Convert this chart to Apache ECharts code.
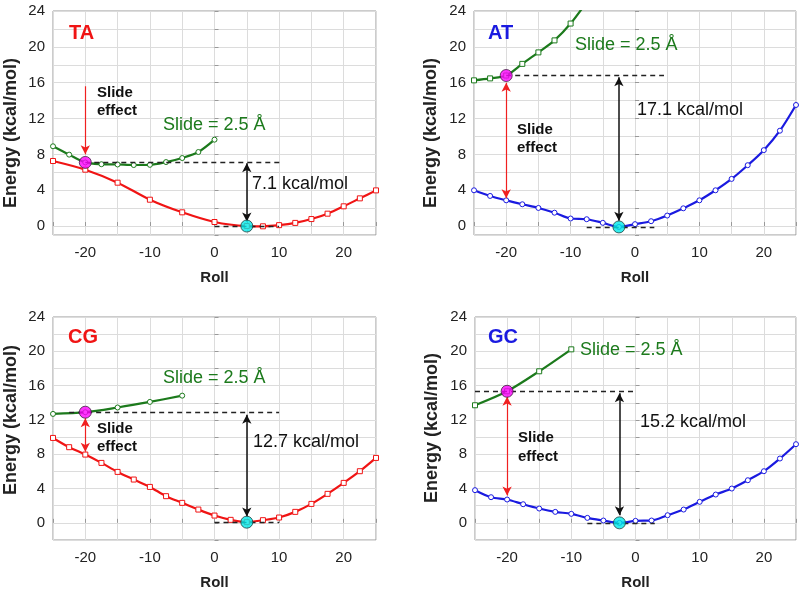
<!DOCTYPE html>
<html><head><meta charset="utf-8">
<script src="https://cdn.jsdelivr.net/npm/echarts@6/dist/echarts.min.js"></script>
<style>html,body{margin:0;padding:0;background:#fff}#c{width:800px;height:593px}</style>
</head><body><div id="c"></div>
<script>
// ---------- data ----------
const rollFull = [-25,-22.5,-20,-17.5,-15,-12.5,-10,-7.5,-5,-2.5,0,2.5,5,7.5,10,12.5,15,17.5,20,22.5,25];
const taBaseRoll = [-25,-20,-15,-10,-5,0,5,7.5,10,12.5,15,17.5,20,22.5,25];
const taBaseE = [7.26,6.29,4.84,2.94,1.53,0.45,0.0,-0.03,0.1,0.35,0.78,1.38,2.2,3.09,3.98];
const taSlideRoll = [-25,-22.5,-20,-17.5,-15,-12.5,-10,-7.5,-5,-2.5,0];
const taSlideE = [8.9,7.97,7.1,6.9,6.87,6.81,6.83,7.14,7.59,8.26,9.64];
const atBaseE = [3.99,3.36,2.87,2.43,2.02,1.49,0.84,0.76,0.36,-0.1,0.21,0.54,1.17,1.98,2.87,3.99,5.26,6.79,8.47,10.64,13.51];
const atSlideRoll = [-25,-22.5,-20,-17.5,-15,-12.5,-10,-7.5];
const atSlideE = [16.26,16.48,16.8,18.1,19.38,20.72,22.6,25.0];
const cgBaseE = [9.9,8.82,7.96,6.99,5.94,5.05,4.19,3.11,2.33,1.55,0.85,0.35,0.08,0.31,0.62,1.28,2.21,3.38,4.66,6.02,7.57];
const cgSlideRoll = [-25,-20,-15,-10,-5];
const cgSlideE = [12.7,12.9,13.45,14.1,14.83];
const gcBaseE = [3.81,2.99,2.72,2.17,1.67,1.28,1.05,0.58,0.27,0.0,0.23,0.27,0.89,1.55,2.45,3.3,4.0,4.97,6.02,7.5,9.17];
const gcSlideRoll = [-25,-20,-15,-10];
const gcSlideE = [13.71,15.34,17.67,20.23];

const panelNames = ['TA','AT','CG','GC'];
const gapLabels = ['7.1 kcal/mol','17.1 kcal/mol','12.7 kcal/mol','15.2 kcal/mol'];
const minRoll = [5,-2.5,5,-2.5];
const minE = [0,-0.1,0.08,0];
const slidePtRoll = [-20,-20,-20,-20];
const slidePtE = [7.1,16.8,12.9,15.34];
const upperDashRoll = [[-20,10.5],[-20,4.5],[-22.5,10],[-25,0]];
const lowerDashRoll = [[0,10],[-7.5,3],[0,10],[-7.5,3]];
const gapArrowE = [[7.0,0.5],[16.6,0.6],[12.6,0.75],[15.1,0.9]];
const slideArrowE = [[15.6,8.0],[16.0,3.1],[12.2,8.3],[14.7,3.2]];
const slideArrowBoth = [false,true,true,true];
const xTickLabels = [-20,-10,0,10,20];
const yTickLabels = [0,4,8,12,16,20,24];
const yMins = [-1,-1,-2,-2];

// ---------- styles ----------
const RED = '#f01414', BLUE = '#1a1ae0', GREEN = '#1c7a1c';
const FONT = '"Liberation Sans", Arial, sans-serif';
const baseColors = [RED, BLUE, RED, BLUE];
const baseSymbols = ['rect','circle','rect','circle'];
const slideSymbols = ['circle','rect','circle','rect'];
const grids = [
  {left:53, top:11, width:323, height:224},
  {left:474, top:11, width:322, height:224},
  {left:53, top:317, width:323, height:223},
  {left:475, top:317, width:321, height:223}
];

const pairs = (xs, ys) => xs.map((x, i) => [x, ys[i]]);
const baseData = [pairs(taBaseRoll, taBaseE), pairs(rollFull, atBaseE), pairs(rollFull, cgBaseE), pairs(rollFull, gcBaseE)];
const slideData = [pairs(taSlideRoll, taSlideE), pairs(atSlideRoll, atSlideE), pairs(cgSlideRoll, cgSlideE), pairs(gcSlideRoll, gcSlideE)];

const xAxes = grids.map((g, i) => ({
  gridIndex: i, type: 'value', min: -25, max: 25, interval: 5,
  name: 'Roll', nameLocation: 'middle', nameGap: 35,
  nameTextStyle: {fontFamily: FONT, fontWeight: 'bold', fontSize: 15, color: '#222'},
  axisLine: {show: false},
  axisTick: {show: true, inside: true, length: 4, lineStyle: {color: '#999'}},
  axisLabel: {fontFamily: FONT, fontSize: 15, color: '#222', margin: 10,
    formatter: v => xTickLabels.includes(v) ? String(v) : ''},
  splitLine: {show: true, lineStyle: {color: '#dcdcdc', width: 1}}
}));
const yAxes = grids.map((g, i) => ({
  gridIndex: i, type: 'value', min: yMins[i], max: 24, minInterval: 2, maxInterval: 2,
  axisLine: {show: false},
  axisTick: {show: true, inside: true, length: 4, lineStyle: {color: '#999'}},
  axisLabel: {fontFamily: FONT, fontSize: 15, color: '#222', margin: 8,
    formatter: v => yTickLabels.includes(v) ? String(v) : ''},
  splitLine: {show: true, lineStyle: {color: '#dcdcdc', width: 1}}
}));

const series = [];
for (let i = 0; i < 4; i++) {
  series.push({
    type: 'line', xAxisIndex: i, yAxisIndex: i, data: baseData[i], smooth: 0.3,
    symbol: baseSymbols[i], symbolSize: 5, clip: true, z: 3,
    lineStyle: {color: baseColors[i], width: 2.2},
    itemStyle: {color: '#fff', borderColor: baseColors[i], borderWidth: 1},
    silent: true
  });
  series.push({
    type: 'line', xAxisIndex: i, yAxisIndex: i, data: slideData[i], smooth: 0.3,
    symbol: slideSymbols[i], symbolSize: 5, clip: true, z: 3,
    lineStyle: {color: GREEN, width: 2.2},
    itemStyle: {color: '#fff', borderColor: GREEN, borderWidth: 1},
    silent: true
  });
  const dash = {type: [5, 4], color: '#222', width: 1.4};
  series.push({
    type: 'scatter', xAxisIndex: i, yAxisIndex: i, z: 10, silent: true,
    data: [
      {value: [slidePtRoll[i], slidePtE[i]], itemStyle: {color: '#ff00ff', borderColor: '#402040', borderWidth: 1}},
      {value: [minRoll[i], minE[i]], itemStyle: {color: '#00e8e8', borderColor: '#204040', borderWidth: 1}}
    ],
    symbol: 'circle', symbolSize: 12,
    markLine: {
      silent: true, animation: false, symbol: 'none', label: {show: false},
      emphasis: {disabled: true},
      data: [
        [{coord: [upperDashRoll[i][0], slidePtE[i]], lineStyle: dash}, {coord: [upperDashRoll[i][1], slidePtE[i]]}],
        [{coord: [lowerDashRoll[i][0], minE[i]], lineStyle: dash}, {coord: [lowerDashRoll[i][1], minE[i]]}],
        [{coord: [minRoll[i], gapArrowE[i][0]], symbol: 'arrow', symbolSize: [7, 9], lineStyle: {type: 'solid', color: '#111', width: 1.5}},
         {coord: [minRoll[i], gapArrowE[i][1]], symbol: 'arrow', symbolSize: [7, 9]}],
        [{coord: [slidePtRoll[i], slideArrowE[i][0]], symbol: slideArrowBoth[i] ? 'arrow' : 'none', symbolSize: [7, 9], lineStyle: {type: 'solid', color: '#f02020', width: 1.2}},
         {coord: [slidePtRoll[i], slideArrowE[i][1]], symbol: 'arrow', symbolSize: [7, 9]}]
      ]
    }
  });
}

// ---------- text layout ----------
function txt(x, y, text, font, fill, rot) {
  return {type: 'text', x: x, y: y, rotation: rot || 0, silent: true, z: 20,
    style: {text: text, font: font, fill: fill, align: rot ? 'center' : 'left', verticalAlign: 'middle'}};
}
const big = 'bold 20px ' + FONT, bold15 = 'bold 15px ' + FONT, reg18 = '18px ' + FONT, axisF = 'bold 18px ' + FONT;
const graphic = [
  txt(69, 33, panelNames[0], big, RED),
  txt(97, 93, 'Slide', bold15, '#111'), txt(97, 111, 'effect', bold15, '#111'),
  txt(163, 125, 'Slide = 2.5 Å', reg18, GREEN),
  txt(252, 184, gapLabels[0], reg18, '#111'),
  txt(488, 33, panelNames[1], big, BLUE),
  txt(517, 130, 'Slide', bold15, '#111'), txt(517, 148, 'effect', bold15, '#111'),
  txt(575, 45, 'Slide = 2.5 Å', reg18, GREEN),
  txt(637, 110, gapLabels[1], reg18, '#111'),
  txt(68, 337, panelNames[2], big, RED),
  txt(97, 429, 'Slide', bold15, '#111'), txt(97, 447, 'effect', bold15, '#111'),
  txt(163, 378, 'Slide = 2.5 Å', reg18, GREEN),
  txt(253, 442, gapLabels[2], reg18, '#111'),
  txt(488, 337, panelNames[3], big, BLUE),
  txt(518, 438, 'Slide', bold15, '#111'), txt(518, 457, 'effect', bold15, '#111'),
  txt(580, 350, 'Slide = 2.5 Å', reg18, GREEN),
  txt(640, 422, gapLabels[3], reg18, '#111'),
  txt(11, 133, 'Energy (kcal/mol)', axisF, '#222', Math.PI / 2),
  txt(431, 133, 'Energy (kcal/mol)', axisF, '#222', Math.PI / 2),
  txt(11, 420, 'Energy (kcal/mol)', axisF, '#222', Math.PI / 2),
  txt(432, 428, 'Energy (kcal/mol)', axisF, '#222', Math.PI / 2)
];

const chart = echarts.init(document.getElementById('c'), null, {renderer: 'canvas'});
chart.setOption({
  animation: false,
  backgroundColor: '#fff',
  grid: grids.map(g => Object.assign({show: true, borderColor: '#999', borderWidth: 1, backgroundColor: 'transparent', containLabel: false}, g)),
  xAxis: xAxes,
  yAxis: yAxes,
  series: series,
  graphic: graphic
});
</script></body></html>
